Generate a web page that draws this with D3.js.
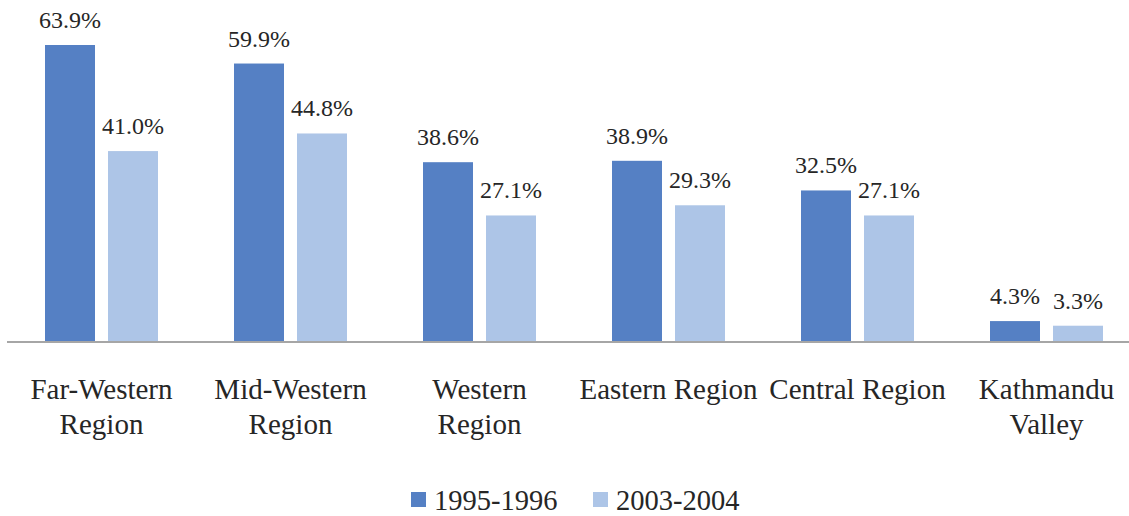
<!DOCTYPE html>
<html><head><meta charset="utf-8">
<script src="https://cdn.jsdelivr.net/npm/d3@7"></script>
<style>body{margin:0;background:#fff;} svg{display:block;} text{font-family:"Liberation Serif","Times New Roman",serif;}</style>
</head><body>
<svg id="c" width="1129" height="516"></svg>
<script>
const categories = [["Far-Western","Region"],["Mid-Western","Region"],["Western","Region"],["Eastern Region"],["Central Region"],["Kathmandu","Valley"]];
const seriesNames = ["1995-1996","2003-2004"];
const values1995 = [63.9,59.9,38.6,38.9,32.5,4.3];
const values2003 = [41.0,44.8,27.1,29.3,27.1,3.3];
const colors = ["#5580c4","#adc5e7"];

const svg = d3.select("#c");
const baseY = 341, left = 7, step = 189;
const x0 = d3.scaleBand().domain(d3.range(categories.length)).range([left, left + step*categories.length]).paddingInner(0).paddingOuter(0);
const y = d3.scaleLinear().domain([0, 63.9]).range([baseY, 45]);
const x1 = d3.scaleBand().domain([0,1]).range([38, 38+113]).paddingInner(13/63);

const series = [values1995, values2003];
series.forEach((vals, s) => {
  const g = svg.append("g");
  g.selectAll("rect").data(vals).join("rect")
    .attr("x", (d,i) => x0(i) + x1(s))
    .attr("width", x1.bandwidth())
    .attr("y", d => y(d))
    .attr("height", d => baseY - y(d))
    .attr("fill", colors[s]);
  g.selectAll("text").data(vals).join("text")
    .attr("x", (d,i) => x0(i) + x1(s) + x1.bandwidth()/2)
    .attr("y", d => y(d) - 17)
    .attr("text-anchor","middle")
    .attr("font-size", 24).attr("fill","#262626")
    .text(d => d.toFixed(1) + "%");
});

svg.append("line").attr("x1", left).attr("x2", 1129).attr("y1", baseY+1).attr("y2", baseY+1)
  .attr("stroke","#a6a6a6").attr("stroke-width",2);

categories.forEach((lines, i) => {
  const t = svg.append("text").attr("text-anchor","middle")
    .attr("font-size", 29).attr("fill","#262626");
  lines.forEach((ln, k) => {
    t.append("tspan").attr("x", x0(i) + x0.bandwidth()/2).attr("y", 399 + k*35).text(ln);
  });
});

const legX = [411, 593];
seriesNames.forEach((n, s) => {
  svg.append("rect").attr("x", legX[s]).attr("y", 492).attr("width", 15).attr("height", 15).attr("fill", colors[s]);
  svg.append("text").attr("x", legX[s] + 23).attr("y", 510)
    .attr("font-size", 28.5).attr("fill","#262626").text(n);
});
</script>
</body></html>
